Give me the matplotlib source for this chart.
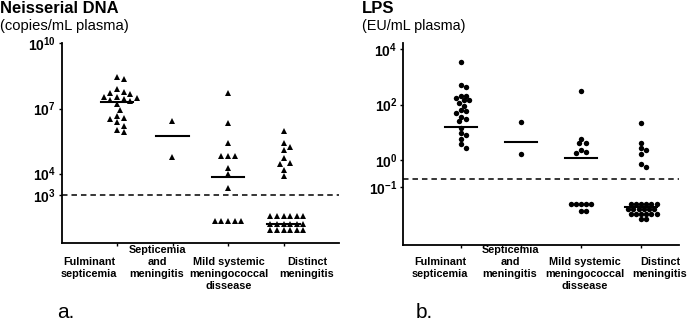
import numpy as np
import matplotlib
matplotlib.use("Agg")
import matplotlib.pyplot as plt

plt.rcParams['font.family'] = ['Liberation Sans', 'DejaVu Sans']
plt.rcParams['mathtext.fontset'] = 'custom'
plt.rcParams['mathtext.rm'] = 'Liberation Sans:bold'
plt.rcParams['mathtext.it'] = 'Liberation Sans:bold'
plt.rcParams['mathtext.bf'] = 'Liberation Sans:bold'
plt.rcParams['mathtext.default'] = 'rm'

# ---------------- data ----------------
categories = ["Fulminant\nsepticemia", "Septicemia\nand\nmeningitis",
              "Mild systemic\nmeningococcal\ndissease", "Distinct\nmeningitis"]

# Neisserial DNA (copies/mL plasma)
dna_fulminant = [2.95e8, 2.24e8, 7.8e7, 5.6e7, 5.0e7, 4.6e7, 3.5e7, 3.5e7, 3.0e7, 2.75e7,
                 2.45e7, 2.3e7, 1.6e7, 8.5e6, 4.6e6, 3.8e6, 3.2e6, 2.4e6, 1.6e6, 1.0e6, 8.1e5]
dna_septicemia = [2.75e6, 5.6e4]
dna_mild = [5.0e7, 2.1e6, 2.5e5, 6.5e4, 6.5e4, 6.5e4, 1.8e4, 9.3e3, 2.2e3,
            66, 66, 66, 66, 66]
dna_distinct = [9.5e5, 2.5e5, 1.75e5, 1.25e5, 5.1e4, 3.0e4, 2.75e4, 1.5e4, 7.8e3,
                107, 107, 107, 107, 107, 107,
                49, 49, 49, 49, 49, 49,
                25, 25, 25, 25, 25, 25]
dna_medians = [1.95e7, 5.6e5, 6.8e3, 49]
dna_threshold = 1e3
dna_ticks = [1e3, 1e4, 1e7, 1e10]
dna_ticklabels = [r"$10^{3}$", r"$10^{4}$", r"$10^{7}$", r"$10^{10}$"]

# LPS (EU/mL plasma)
lps_fulminant = [3550, 513, 427, 209, 209, 178, 145, 145, 115, 89, 63, 59, 50, 36, 30,
                 25, 14, 9.1, 7.9, 5.5, 3.6, 2.6]
lps_septicemia = [23, 1.6]
lps_mild = [316, 5.6, 4.2, 4.0, 2.2, 1.95, 1.7,
            0.0245, 0.0245, 0.0245, 0.0245, 0.0245, 0.014, 0.014]
lps_distinct = [22, 4.2, 2.6, 2.2, 1.6, 0.69, 0.54,
                0.0245, 0.0245, 0.0245, 0.0245, 0.0245, 0.0245,
                0.0166, 0.0166, 0.0166, 0.0166, 0.0166, 0.0166,
                0.0112, 0.0112, 0.0112, 0.0112, 0.0112, 0.0112,
                0.0071, 0.0071]
lps_medians = [16, 4.3, 1.12, 0.02]
lps_threshold = 0.2
lps_ticks = [0.1, 1, 1e2, 1e4]
lps_ticklabels = [r"$10^{-1}$", r"$10^{0}$", r"$10^{2}$", r"$10^{4}$"]

# ---------------- figure ----------------
W, H = 688, 331
fig = plt.figure(figsize=(W / 100, H / 100), dpi=100)


def fx(px):
    return px / W


def fy(py):
    return 1 - py / H


def swarm_x(ax, xc, vals, d_px):
    pts = ax.transData.transform(np.column_stack([np.full(len(vals), xc), vals]))
    ys = pts[:, 1]
    offs = np.zeros(len(vals))
    placed = []
    for i in np.argsort(-ys, kind="stable"):
        chosen = 0.0
        for k in range(0, 60):
            cands = [0] if k == 0 else [k, -k]
            ok = False
            for s in cands:
                dx = s * d_px / 2.0
                if all((dx - px) ** 2 + (ys[i] - py) ** 2 >= (0.92 * d_px) ** 2 for px, py in placed):
                    ok = True
                    chosen = dx
                    break
            if ok:
                break
        placed.append((chosen, ys[i]))
        offs[i] = chosen
    inv = ax.transData.inverted()
    return inv.transform(np.column_stack([pts[:, 0] + offs, ys]))[:, 0]


def make_panel(rect, groups, medians, thr, ylim, xlim, ticks, ticklabels,
               marker, ms, med_hw, label_px, label_tops):
    ax = fig.add_axes(rect)
    ax.set_yscale("log")
    ax.set_ylim(*ylim)
    ax.set_xlim(*xlim)
    for s in ("top", "right"):
        ax.spines[s].set_visible(False)
    for s in ("left", "bottom"):
        ax.spines[s].set_linewidth(1.3)
    ax.axhline(thr, color="black", lw=1.1, ls=(0, (3.6, 2.6)), zorder=1)
    d_px = ms * 100 / 72 * 0.95
    for i, (vals, med) in enumerate(zip(groups, medians), start=1):
        xs = swarm_x(ax, i, vals, d_px)
        ax.plot(xs, vals, ls="none", marker=marker, ms=ms, color="black",
                markeredgewidth=0, zorder=3)
        ax.plot([i - med_hw, i + med_hw], [med, med], color="black", lw=1.5, zorder=2)
    ax.set_yticks(ticks)
    ax.set_yticklabels(ticklabels, fontsize=10)
    ax.yaxis.set_minor_locator(matplotlib.ticker.NullLocator())
    ax.set_xticks(range(1, len(groups) + 1))
    ax.set_xticklabels([])
    ax.tick_params(axis="y", length=2.5, width=1, pad=1.5)
    ax.tick_params(axis="x", length=2.5, width=1)
    for lab, xp, top in zip(categories, label_px, label_tops):
        fig.text(fx(xp), fy(top), lab, ha="center", va="top",
                 fontsize=7.8, fontweight="bold", linespacing=1.28,
                 multialignment="center")
    return ax


axL = make_panel([fx(61.5), fy(243), fx(339) - fx(61.5), fy(43) - fy(243)],
                 [dna_fulminant, dna_septicemia, dna_mild, dna_distinct], dna_medians,
                 dna_threshold, (10 ** 0.8, 10 ** 10.02), (0, 5), dna_ticks, dna_ticklabels,
                 "^", 5.0, 0.29, [89, 157, 229, 307], [257, 245, 257, 257])

axR = make_panel([fx(403), fy(245), fx(679) - fx(403), fy(43) - fy(245)],
                 [lps_fulminant, lps_septicemia, lps_mild, lps_distinct], lps_medians,
                 lps_threshold, (10 ** -3.09, 10 ** 4.23), (0.03, 4.63), lps_ticks, lps_ticklabels,
                 "o", 3.9, 0.27, [440, 510, 585, 660], [257, 245, 257, 257])

# titles
fig.text(fx(0), fy(13), "Neisserial DNA", fontsize=12, fontweight="bold", va="baseline")
fig.text(fx(0), fy(30), "(copies/mL plasma)", fontsize=10.6, va="baseline")
fig.text(fx(362), fy(13), "LPS", fontsize=12, fontweight="bold", va="baseline")
fig.text(fx(362), fy(30), "(EU/mL plasma)", fontsize=10.4, va="baseline")

fig.text(fx(57), fy(318), "a.", fontsize=15, va="baseline")
fig.text(fx(416), fy(318), "b.", fontsize=15, va="baseline")

fig.savefig("out.png", dpi=100)
